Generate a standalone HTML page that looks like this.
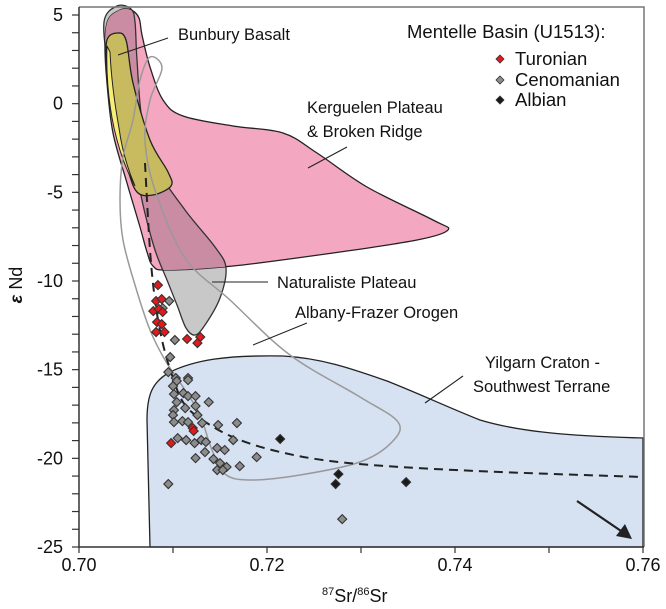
<!DOCTYPE html>
<html><head><meta charset="utf-8"><style>
html,body{margin:0;padding:0;background:#fff;}
svg{display:block;font-family:"Liberation Sans",Arial,sans-serif;}
</style></head><body>
<svg id="chart" width="666" height="609" viewBox="0 0 666 609" xmlns="http://www.w3.org/2000/svg">
<defs><clipPath id="pinkClip"><path id="pinkClipPath"/></clipPath></defs>
<g id="fields"></g>
<g id="axes"></g>
<g id="labels"></g>
<g id="marks"></g>
<g id="legend"></g>
</svg>
<script>
const xTicks = [0.70,0.71,0.72,0.73,0.74,0.75,0.76];
const xTickLabels = ["0.70","0.72","0.74","0.76"];
const xTickLabelValues = [0.70,0.72,0.74,0.76];
const yTickLabelValues = [5,0,-5,-10,-15,-20,-25];
const yTickLabels = ["5","0","-5","-10","-15","-20","-25"];
const turX = [0.7084,0.7082,0.7088,0.7079,0.7085,0.7089,0.7083,0.7088,0.7082,0.7091,0.7115,0.7129,0.7126,0.7098,0.7121,0.7122];
const turY = [-10.23,-11.13,-11.02,-11.70,-11.58,-11.75,-12.32,-12.43,-12.88,-12.88,-13.27,-13.16,-13.50,-19.14,-18.29,-18.46];
const cenX = [0.7096,0.7089,0.7102,0.7097,0.7095,0.7103,0.7116,0.7104,0.7116,0.7100,0.7101,0.7111,0.7116,0.7124,0.7104,0.7113,0.7124,0.7138,0.7101,0.7100,0.7126,0.7101,0.7110,0.7116,0.7131,0.7148,0.7168,0.7105,0.7114,0.7123,0.7130,0.7135,0.7134,0.7147,0.7155,0.7164,0.7124,0.7143,0.7150,0.7157,0.7147,0.7153,0.7171,0.7095,0.7189,0.7280];
const cenY = [-11.13,-11.53,-13.33,-14.29,-15.14,-15.47,-15.47,-15.64,-15.59,-15.93,-16.38,-16.32,-16.49,-16.49,-16.83,-17.17,-17.05,-16.83,-17.28,-17.56,-17.56,-17.96,-17.90,-17.96,-18.01,-18.12,-18.01,-18.86,-18.97,-19.14,-18.97,-19.08,-19.65,-19.42,-19.53,-18.97,-19.99,-20.04,-20.27,-20.49,-20.66,-20.66,-20.44,-21.45,-19.93,-23.43];
const albX = [0.7214,0.7276,0.7273,0.7348];
const albY = [-18.91,-20.89,-21.45,-21.34];

const NS="http://www.w3.org/2000/svg";
const X0=79, X1=643, Y0=15, Y1=547;
function sx(v){return X0+(v-0.70)/0.06*(X1-X0);}
function sy(v){return Y0+(5-v)/30*(Y1-Y0);}
function el(tag,attrs,parent){const e=document.createElementNS(NS,tag);for(const k in attrs)e.setAttribute(k,attrs[k]);parent.appendChild(e);return e;}
function smooth(pts,closed){
  const n=pts.length;let d="M"+pts[0][0]+","+pts[0][1];
  const last=closed?n:n-1;
  for(let i=0;i<last;i++){
    const p0=pts[(i-1+n)%n],p1=pts[i],p2=pts[(i+1)%n],p3=pts[(i+2)%n];
    const a=closed||i>0?p0:p1, b=closed||i+2<n?p3:p2;
    const c1=[p1[0]+(p2[0]-a[0])/6,p1[1]+(p2[1]-a[1])/6];
    const c2=[p2[0]-(b[0]-p1[0])/6,p2[1]-(b[1]-p1[1])/6];
    d+=" C"+c1[0].toFixed(1)+","+c1[1].toFixed(1)+" "+c2[0].toFixed(1)+","+c2[1].toFixed(1)+" "+p2[0]+","+p2[1];
  }
  return d+(closed?"Z":"");
}
const fields=document.getElementById('fields');
// Yilgarn
const yil=el('path',{d:"M150,547 L147,420 C147,395 152,382 170,372 C195,360 225,355 283,356 C320,358 350,368 387,381 C420,394 445,406 480,420 C520,432 570,436 643,438 L643,547 Z",fill:"#d6e1f1",stroke:"#222","stroke-width":1.3},fields);


// Gray Naturaliste
const grayPts=[[104,22],[117,6],[131,9],[135,22],[137,60],[142,120],[155,165],[185,210],[215,247],[226,268],[220,298],[205,325],[195,335],[186,328],[177,305],[167,280],[155,250],[143,205],[134,160],[120,110],[109,70]];
const grayD=smooth(grayPts,true);
const gray=el('path',{d:grayD,fill:"#c9c8c9",stroke:"#333","stroke-width":1.3},fields);


// Pink Kerguelen
const pinkPts=[[108,20],[120,10],[131,10],[139,18],[142,35],[150,67],[163,100],[183,116],[233,126],[283,133],[317,153],[367,187],[433,220],[448,230],[417,240],[333,253],[233,266],[167,270],[153,266],[147,252],[140,227],[127,183],[113,133],[107,83],[105,45]];
const pinkD=smooth(pinkPts,true);
document.getElementById('pinkClipPath').setAttribute('d',pinkD);
const pink=el('path',{d:pinkD,fill:"#f4a7c1",stroke:"#222","stroke-width":1.3},fields);


const over=el('path',{d:grayD,fill:"#c98ca2",stroke:"#333","stroke-width":1.3,"clip-path":"url(#pinkClip)"},fields);


// Bunbury
const bunPts=[[107,40],[117,33],[126,40],[133,83],[150,140],[168,172],[171,186],[153,195],[137,192],[127,167],[113,117],[107,67]];
const bun=el('path',{d:smooth(bunPts,true),fill:"#c8ba5e",stroke:"#222","stroke-width":1.3},fields);


const yel=el('path',{d:"M107,46 C106,70 108,100 114,128 C119,150 126,170 135,186 C128,170 122,150 119,128 C114,100 111,75 110,52 Z",fill:"#f7ee78",stroke:"#222","stroke-width":1},fields);


// Albany-Frazer loop
const albPts=[[150,57],[162,68],[150,100],[145,140],[155,190],[185,258],[230,300],[290,355],[360,397],[398,422],[392,442],[360,462],[300,475],[250,480],[225,474],[212,450],[200,415],[185,390],[165,360],[150,330],[135,285],[123,240],[120,200],[123,157],[133,120],[140,80]];
const alb=el('path',{d:smooth(albPts,true),fill:"none",stroke:"#999","stroke-width":1.5},fields);


// mixing curve
const mixPts=[[145,163],[150,250],[155,300],[162,340],[172,375],[185,405],[210,425],[240,440],[280,452],[330,461],[400,467],[500,472],[643,477]];
const mix=el('path',{d:smooth(mixPts,false),fill:"none",stroke:"#222","stroke-width":2,"stroke-dasharray":"9,6"},fields);


// arrow
const arr=el('line',{x1:577,y1:501,x2:624,y2:533,stroke:"#222","stroke-width":2.2},fields);


const ah=el('polygon',{points:"632,539 616,536 625,524",fill:"#222"},fields);



// axes
const axes=document.getElementById('axes');
const frame=el('path',{d:"M79,7 L644,7 L644,547",fill:"none",stroke:"#777","stroke-width":1.5},axes);


const ax=el('path',{d:"M79,7 L79,547 L644,547",fill:"none",stroke:"#333","stroke-width":1.5},axes);


for(let v=5;v>=-25;v--){const t=el('line',{x1:72,x2:79,y1:sy(v),y2:sy(v),stroke:"#333","stroke-width":1.2},axes);

}
xTicks.forEach(v=>{const t=el('line',{x1:sx(v),x2:sx(v),y1:547,y2:553,stroke:"#333","stroke-width":1.2},axes);

});
xTickLabelValues.forEach((v,i)=>{const t=el('text',{x:sx(v),y:571,"text-anchor":"middle","font-size":18,fill:"#111"},axes);t.textContent=xTickLabels[i];

});
yTickLabelValues.forEach((v,i)=>{const t=el('text',{x:63,y:sy(v)+6,"text-anchor":"end","font-size":18,fill:"#111"},axes);t.textContent=yTickLabels[i];

});
const xt=el('text',{x:322,y:602,"font-size":18,fill:"#111"},axes);
xt.innerHTML='<tspan font-size="11" dy="-7">87</tspan><tspan dy="7">Sr/</tspan><tspan font-size="11" dy="-7">86</tspan><tspan dy="7">Sr</tspan>';


const yt=el('text',{x:0,y:0,"font-size":18,fill:"#111",transform:"translate(22,285) rotate(-90)","text-anchor":"middle"},axes);
yt.innerHTML='<tspan font-style="italic" font-weight="bold">ε</tspan> Nd';



// labels
const labels=document.getElementById('labels');
function lab(txt,x,y,name){const t=el('text',{x:x,y:y,"font-size":16.5,fill:"#111"},labels);t.textContent=txt;

}
function lead(x1,y1,x2,y2,name){const l=el('line',{x1,y1,x2,y2,stroke:"#222","stroke-width":1.1},labels);

}
lab("Bunbury Basalt",178,40,'bunbury-basalt-label');lead(168,38,118,55,'bunbury-leader');
lab("Kerguelen Plateau",307,113,'kerguelen-label-1');lab("& Broken Ridge",307,137,'kerguelen-label-2');lead(347,147,308,168,'kerguelen-leader');
lab("Naturaliste Plateau",277,288,'naturaliste-label');lead(212,282,268,282,'naturaliste-leader');
lab("Albany-Frazer Orogen",295,318,'albany-label');lead(307,323,253,345,'albany-leader');
lab("Yilgarn Craton -",485,368,'yilgarn-label-1');lab("Southwest Terrane",473,392,'yilgarn-label-2');lead(463,376,425,403,'yilgarn-leader');

// points
const marks=document.getElementById('marks');
function dia(x,y,fill,name,r){const p=el('polygon',{points:`${x},${y-r} ${x+r},${y} ${x},${y+r} ${x-r},${y}`,fill:fill,stroke:"#333","stroke-width":1.1},marks);

}
cenX.forEach((v,i)=>dia(sx(v),sy(cenY[i]),"#8c8c8c",'cenomanian-point',4.5));
turX.forEach((v,i)=>dia(sx(v),sy(turY[i]),"#e5191c",'turonian-point',4.5));
albX.forEach((v,i)=>dia(sx(v),sy(albY[i]),"#1a1a1a",'albian-point',4.5));

// legend
const lg=document.getElementById('legend');
const lt=el('text',{x:407,y:38,"font-size":18.5,fill:"#111"},lg);lt.textContent="Mentelle Basin (U1513):";


[["Turonian","#e5191c",65],["Cenomanian","#8c8c8c",86],["Albian","#1a1a1a",106]].forEach(e=>{
 const p=el('polygon',{points:`500,${e[2]-10} 504,${e[2]-6} 500,${e[2]-2} 496,${e[2]-6}`,fill:e[1],stroke:"#333","stroke-width":0.8},lg);
 
 
 const t=el('text',{x:515,y:e[2],"font-size":18.5,fill:"#111"},lg);t.textContent=e[0];
 
 
});
</script>
</body></html>
